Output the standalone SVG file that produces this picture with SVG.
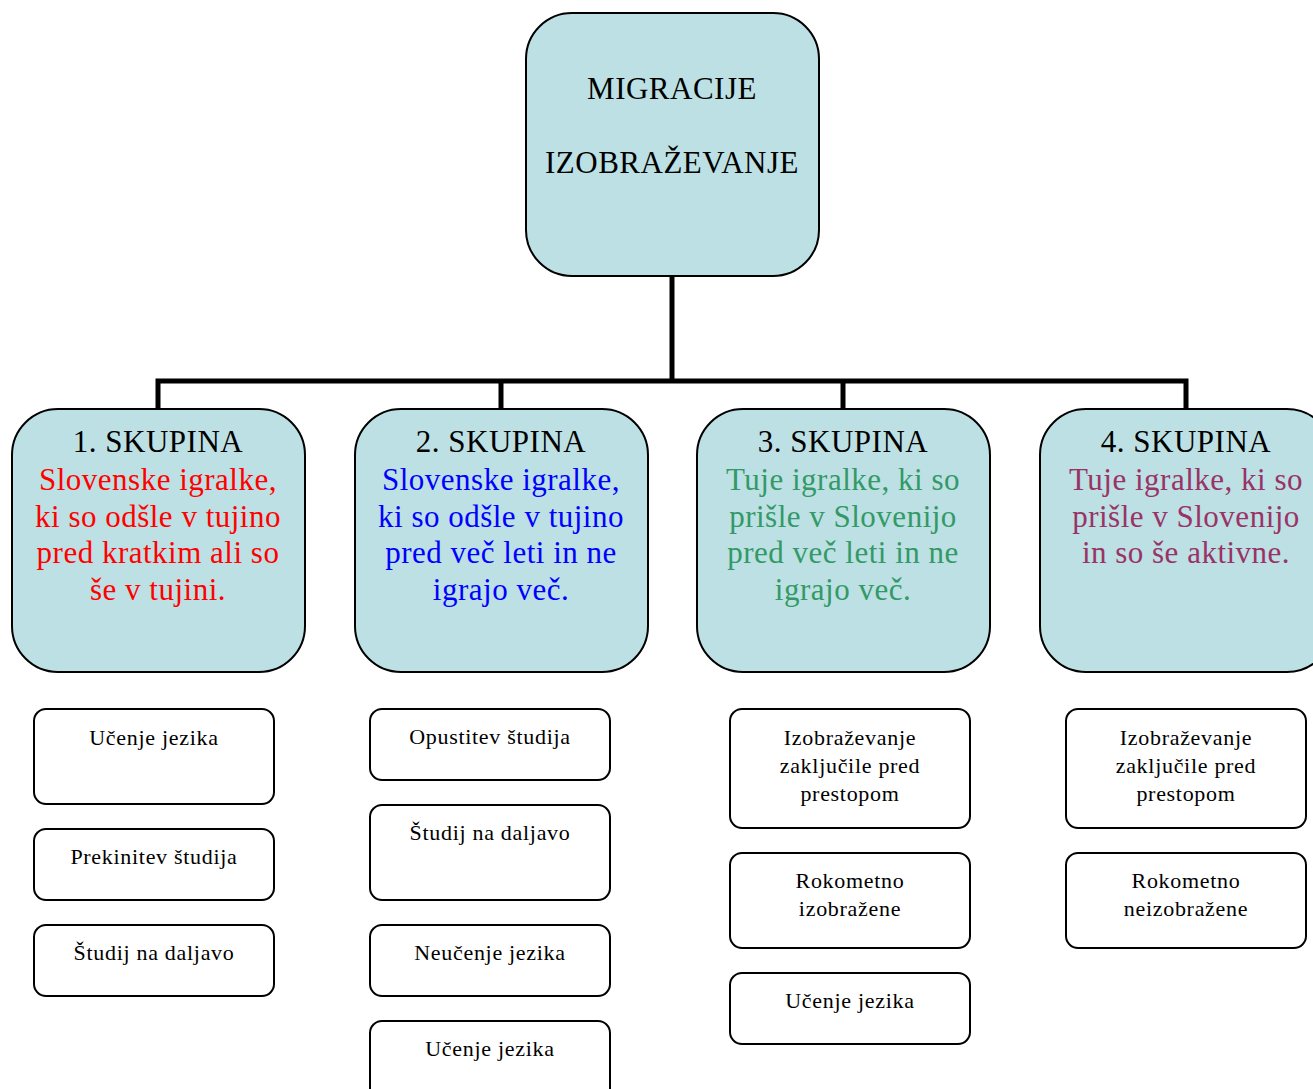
<svg xmlns="http://www.w3.org/2000/svg" width="1313" height="1089" viewBox="0 0 1313 1089">
<style>
.big{fill:#bce0e3;stroke:#000;stroke-width:2}
.small{fill:#fff;stroke:#000;stroke-width:2}
text{font-family:"Liberation Serif","Times New Roman",serif;text-anchor:middle}
.t30{font-size:31px;letter-spacing:0.5px}
.t21{font-size:22px;letter-spacing:0.7px;fill:#000}
.conn{fill:none;stroke:#000;stroke-width:5}
.red{fill:#ff0000}.blue{fill:#0000ff}.green{fill:#339966}.purple{fill:#993366}
</style>
<rect width="1313" height="1089" fill="#fff"/>
<g id="connectors">
<path class="conn" d="M672 276 V381"/>
<path class="conn" d="M158 409 V381 H1186 V409"/>
<path class="conn" d="M501 381 V409"/>
<path class="conn" d="M843 381 V409"/>
</g>
<g id="root">
<rect class="big" x="526" y="13" width="293" height="263" rx="46"/>
<text class="t30" x="672" y="99">MIGRACIJE</text>
<text class="t30" x="672" y="173">IZOBRAŽEVANJE</text>
</g>
<g id="g1">
<rect class="big" x="12" y="409" width="293" height="263" rx="46"/>
<text class="t30" x="158" y="452">1. SKUPINA</text>
<text class="t30 red" x="158" y="490">Slovenske igralke,</text>
<text class="t30 red" x="158" y="527">ki so odšle v tujino</text>
<text class="t30 red" x="158" y="563">pred kratkim ali so</text>
<text class="t30 red" x="158" y="600">še v tujini.</text>
</g>
<g id="g2">
<rect class="big" x="355" y="409" width="293" height="263" rx="46"/>
<text class="t30" x="501" y="452">2. SKUPINA</text>
<text class="t30 blue" x="501" y="490">Slovenske igralke,</text>
<text class="t30 blue" x="501" y="527">ki so odšle v tujino</text>
<text class="t30 blue" x="501" y="563">pred več leti in ne</text>
<text class="t30 blue" x="501" y="600">igrajo več.</text>
</g>
<g id="g3">
<rect class="big" x="697" y="409" width="293" height="263" rx="46"/>
<text class="t30" x="843" y="452">3. SKUPINA</text>
<text class="t30 green" x="843" y="490">Tuje igralke, ki so</text>
<text class="t30 green" x="843" y="527">prišle v Slovenijo</text>
<text class="t30 green" x="843" y="563">pred več leti in ne</text>
<text class="t30 green" x="843" y="600">igrajo več.</text>
</g>
<g id="g4">
<rect class="big" x="1040" y="409" width="293" height="263" rx="46"/>
<text class="t30" x="1186" y="452">4. SKUPINA</text>
<text class="t30 purple" x="1186" y="490">Tuje igralke, ki so</text>
<text class="t30 purple" x="1186" y="527">prišle v Slovenijo</text>
<text class="t30 purple" x="1186" y="563">in so še aktivne.</text>
</g>
<g id="c1a"><rect class="small" x="34" y="709" width="240" height="95" rx="12"/><text class="t21" x="154" y="745">Učenje jezika</text></g>
<g id="c1b"><rect class="small" x="34" y="829" width="240" height="71" rx="12"/><text class="t21" x="154" y="864">Prekinitev študija</text></g>
<g id="c1c"><rect class="small" x="34" y="925" width="240" height="71" rx="12"/><text class="t21" x="154" y="960">Študij na daljavo</text></g>
<g id="c2a"><rect class="small" x="370" y="709" width="240" height="71" rx="12"/><text class="t21" x="490" y="744">Opustitev študija</text></g>
<g id="c2b"><rect class="small" x="370" y="805" width="240" height="95" rx="12"/><text class="t21" x="490" y="840">Študij na daljavo</text></g>
<g id="c2c"><rect class="small" x="370" y="925" width="240" height="71" rx="12"/><text class="t21" x="490" y="960">Neučenje jezika</text></g>
<g id="c2d"><rect class="small" x="370" y="1021" width="240" height="80" rx="12"/><text class="t21" x="490" y="1056">Učenje jezika</text></g>
<g id="c3a"><rect class="small" x="730" y="709" width="240" height="119" rx="12"/><text class="t21" x="850" y="745">Izobraževanje</text><text class="t21" x="850" y="773">zaključile pred</text><text class="t21" x="850" y="801">prestopom</text></g>
<g id="c3b"><rect class="small" x="730" y="853" width="240" height="95" rx="12"/><text class="t21" x="850" y="888">Rokometno</text><text class="t21" x="850" y="916">izobražene</text></g>
<g id="c3c"><rect class="small" x="730" y="973" width="240" height="71" rx="12"/><text class="t21" x="850" y="1008">Učenje jezika</text></g>
<g id="c4a"><rect class="small" x="1066" y="709" width="240" height="119" rx="12"/><text class="t21" x="1186" y="745">Izobraževanje</text><text class="t21" x="1186" y="773">zaključile pred</text><text class="t21" x="1186" y="801">prestopom</text></g>
<g id="c4b"><rect class="small" x="1066" y="853" width="240" height="95" rx="12"/><text class="t21" x="1186" y="888">Rokometno</text><text class="t21" x="1186" y="916">neizobražene</text></g>
</svg>
